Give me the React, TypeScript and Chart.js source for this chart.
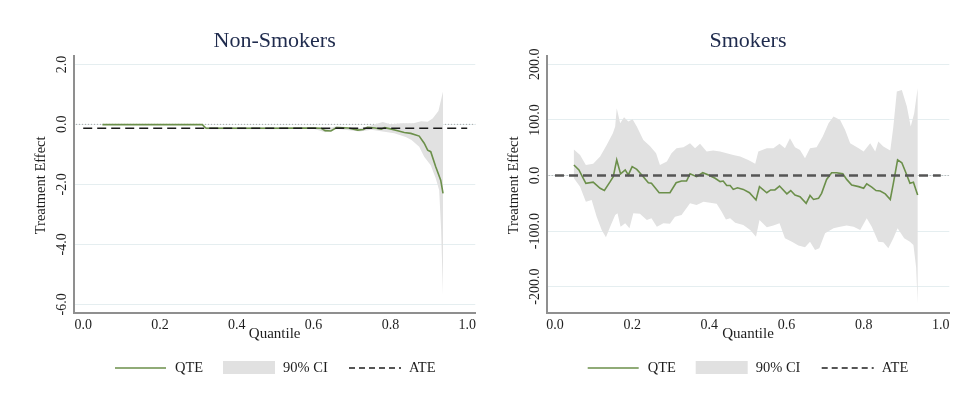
import React, { useEffect, useRef } from "react";
import { Chart, registerables } from "chart.js";
Chart.register(...registerables);

// ---------- Non-Smokers ----------
const nsQteX = [0.05, 0.31, 0.32, 0.40, 0.50, 0.60, 0.62, 0.63, 0.645, 0.66, 0.69, 0.715, 0.73, 0.74, 0.76, 0.776, 0.785, 0.80, 0.819, 0.836, 0.853, 0.875, 0.888, 0.897, 0.905, 0.918, 0.931, 0.937];
const nsQte = [-0.01, -0.01, -0.13, -0.13, -0.13, -0.12, -0.13, -0.21, -0.22, -0.11, -0.12, -0.19, -0.17, -0.10, -0.12, -0.16, -0.11, -0.15, -0.21, -0.27, -0.30, -0.39, -0.63, -0.86, -0.91, -1.41, -1.86, -2.30];
const nsHiX = [0.32, 0.50, 0.60, 0.63, 0.66, 0.72, 0.75, 0.78, 0.80, 0.83, 0.86, 0.88, 0.897, 0.91, 0.925, 0.937];
const nsHi = [-0.10, -0.10, -0.09, -0.15, -0.06, -0.13, -0.04, 0.08, 0.00, 0.04, 0.04, 0.10, 0.09, 0.20, 0.45, 1.10];
const nsLoX = [0.32, 0.50, 0.60, 0.63, 0.66, 0.72, 0.75, 0.78, 0.81, 0.84, 0.855, 0.875, 0.888, 0.905, 0.918, 0.927, 0.932, 0.937];
const nsLo = [-0.16, -0.16, -0.15, -0.26, -0.15, -0.24, -0.18, -0.24, -0.30, -0.42, -0.52, -0.75, -1.08, -1.36, -1.80, -2.20, -3.50, -5.70];
const nsAte = -0.13;

// ---------- Smokers ----------
const smQteX = [0.049, 0.062, 0.08, 0.099, 0.117, 0.128, 0.143, 0.151, 0.16, 0.17, 0.182, 0.19, 0.2, 0.212, 0.225, 0.242, 0.25, 0.27, 0.298, 0.314, 0.328, 0.341, 0.35, 0.367, 0.383, 0.398, 0.415, 0.428, 0.436, 0.445, 0.454, 0.462, 0.473, 0.488, 0.504, 0.521, 0.53, 0.549, 0.559, 0.57, 0.582, 0.601, 0.611, 0.622, 0.635, 0.651, 0.661, 0.67, 0.683, 0.691, 0.704, 0.717, 0.73, 0.746, 0.756, 0.769, 0.787, 0.8, 0.808, 0.821, 0.832, 0.843, 0.856, 0.869, 0.877, 0.888, 0.899, 0.91, 0.92, 0.929, 0.94];
const smQte = [19, 10, -14, -12, -23, -27, -11, -2, 28, 3, 10, 1, 16, 11, 1, -13, -14, -31, -31, -13, -10, -10, 3, -2, 5, 1, -5, -11, -10, -18, -18, -25, -22, -25, -31, -44, -20, -31, -26, -26, -19, -33, -27, -35, -38, -50, -36, -43, -41, -32, -7, 5, 5, 3, -7, -17, -20, -23, -15, -21, -27, -28, -33, -43, -14, 28, 23, 4, -14, -12, -35];
const smHiX = [0.049, 0.065, 0.08, 0.099, 0.117, 0.134, 0.15, 0.156, 0.16, 0.169, 0.179, 0.19, 0.201, 0.212, 0.229, 0.246, 0.262, 0.272, 0.29, 0.302, 0.315, 0.333, 0.35, 0.363, 0.376, 0.393, 0.41, 0.428, 0.445, 0.462, 0.48, 0.501, 0.519, 0.527, 0.549, 0.566, 0.582, 0.596, 0.609, 0.622, 0.635, 0.648, 0.661, 0.678, 0.694, 0.709, 0.722, 0.739, 0.752, 0.765, 0.787, 0.8, 0.817, 0.83, 0.838, 0.851, 0.869, 0.877, 0.886, 0.899, 0.912, 0.922, 0.931, 0.94];
const smHi = [47, 37, 19, 21, 34, 55, 76, 88, 121, 94, 105, 97, 101, 88, 64, 53, 40, 19, 25, 40, 49, 51, 58, 49, 57, 43, 45, 43, 40, 37, 34, 28, 21, 43, 49, 49, 57, 49, 67, 51, 46, 31, 49, 51, 70, 94, 106, 100, 82, 58, 49, 43, 58, 43, 61, 52, 45, 88, 151, 154, 124, 88, 112, 157];
const smLoX = [0.049, 0.065, 0.08, 0.095, 0.108, 0.121, 0.132, 0.143, 0.156, 0.162, 0.17, 0.182, 0.193, 0.203, 0.22, 0.238, 0.25, 0.264, 0.281, 0.298, 0.311, 0.328, 0.35, 0.367, 0.385, 0.402, 0.419, 0.432, 0.443, 0.454, 0.467, 0.488, 0.506, 0.521, 0.53, 0.549, 0.566, 0.582, 0.596, 0.614, 0.631, 0.648, 0.661, 0.674, 0.685, 0.7, 0.722, 0.739, 0.756, 0.774, 0.791, 0.808, 0.821, 0.838, 0.851, 0.864, 0.877, 0.888, 0.905, 0.92, 0.929, 0.936, 0.94];
const smLo = [-5, -20, -47, -44, -74, -98, -111, -92, -71, -68, -92, -86, -95, -68, -69, -80, -77, -92, -86, -87, -74, -71, -50, -53, -47, -49, -51, -65, -79, -77, -85, -89, -98, -110, -80, -93, -90, -86, -113, -119, -126, -129, -119, -134, -131, -104, -95, -92, -90, -92, -98, -77, -92, -119, -120, -131, -113, -95, -113, -119, -125, -165, -230];
const smAte = 0;

const xTicks = [0, 0.2, 0.4, 0.6, 0.8, 1.0];
const legendLabels = ["QTE", "90% CI", "ATE"];

const FONT = '"Liberation Serif", "Times New Roman", serif';
const GREEN = "#6b8f4a";
const CI_FILL = "#e1e1e1";
const AXIS = "#8f8f8f";
const GRID = "#e5eef0";
const TXT = "#1e1e1e";
const TITLE = "#1f2b4d";

const PLOT_TOP = 56;
const PLOT_BOTTOM = 312.7;
const H = 407;

type Panel = {
  title: string;
  canvasLeft: number;
  canvasWidth: number;
  areaLeft: number;
  areaRight: number;
  xMin: number;
  xMax: number;
  yMin: number;
  yMax: number;
  yStep: number;
  qteX: number[];
  qte: number[];
  hiX: number[];
  hi: number[];
  loX: number[];
  lo: number[];
  ate: number;
  ateColor: string;
  ateWidth: number;
  ateDash: number[];
};

const panels: Panel[] = [
  {
    title: "Non-Smokers",
    canvasLeft: 0,
    canvasWidth: 480,
    areaLeft: 74,
    areaRight: 478,
    xMin: -0.024,
    xMax: 1.021,
    yMin: -6.28,
    yMax: 2.28,
    yStep: 2,
    qteX: nsQteX,
    qte: nsQte,
    hiX: nsHiX,
    hi: nsHi,
    loX: nsLoX,
    lo: nsLo,
    ate: nsAte,
    ateColor: "#1a1a1a",
    ateWidth: 1.6,
    ateDash: [9, 5],
  },
  {
    title: "Smokers",
    canvasLeft: 480,
    canvasWidth: 479,
    areaLeft: 66.7,
    areaRight: 469.3,
    xMin: -0.0215,
    xMax: 1.022,
    yMin: -246.8,
    yMax: 215,
    yStep: 100,
    qteX: smQteX,
    qte: smQte,
    hiX: smHiX,
    hi: smHi,
    loX: smLoX,
    lo: smLo,
    ate: smAte,
    ateColor: "#555555",
    ateWidth: 2.4,
    ateDash: [9, 5],
  },
];

function pts(xs: number[], ys: number[]) {
  return xs.map((x, i) => ({ x, y: ys[i] }));
}

function makeDecor(p: Panel) {
  return {
    id: "decor",
    beforeDatasetsDraw(chart: any) {
      const { ctx, chartArea, scales } = chart;
      const y0 = scales.y.getPixelForValue(0);
      ctx.save();
      ctx.strokeStyle = "#a8a8a8";
      ctx.lineWidth = 1;
      ctx.setLineDash([1, 2]);
      ctx.beginPath();
      ctx.moveTo(chartArea.left + 2, y0);
      ctx.lineTo(chartArea.right, y0);
      ctx.stroke();
      ctx.restore();
    },
    afterDraw(chart: any) {
      const { ctx, chartArea, scales } = chart;
      const y = scales.y;
      const L = chartArea.left;
      ctx.save();
      // y tick labels (rotated)
      ctx.fillStyle = TXT;
      ctx.font = `14px ${FONT}`;
      ctx.textAlign = "center";
      ctx.textBaseline = "middle";
      for (const t of y.ticks) {
        const py = y.getPixelForValue(t.value);
        ctx.save();
        ctx.translate(L - 11.5, py);
        ctx.rotate(-Math.PI / 2);
        ctx.fillText(Number(t.value).toFixed(1), 0, 0);
        ctx.restore();
      }
      // y axis title
      ctx.save();
      ctx.font = `14.5px ${FONT}`;
      ctx.translate(L - 32.5, (chartArea.top + chartArea.bottom) / 2 + 1);
      ctx.rotate(-Math.PI / 2);
      ctx.fillText("Treatment Effect", 0, 0);
      ctx.restore();
      // x axis title
      ctx.font = `15px ${FONT}`;
      ctx.textBaseline = "alphabetic";
      ctx.fillText("Quantile", (chartArea.left + chartArea.right) / 2, 338);
      // panel title
      ctx.fillStyle = TITLE;
      ctx.font = `22px ${FONT}`;
      ctx.textBaseline = "middle";
      ctx.fillText(p.title, (chartArea.left + chartArea.right) / 2, 41);
      // legend
      const ly = 368;
      ctx.textAlign = "left";
      ctx.textBaseline = "middle";
      ctx.font = `14.5px ${FONT}`;
      ctx.fillStyle = TXT;
      // QTE line
      ctx.strokeStyle = GREEN;
      ctx.lineWidth = 1.5;
      ctx.beginPath();
      ctx.moveTo(L + 41, ly);
      ctx.lineTo(L + 92, ly);
      ctx.stroke();
      ctx.fillText(legendLabels[0], L + 101, ly + 0.5);
      // CI box
      ctx.fillStyle = CI_FILL;
      ctx.fillRect(L + 149, ly - 7, 52, 13);
      ctx.fillStyle = TXT;
      ctx.fillText(legendLabels[1], L + 209, ly + 0.5);
      // ATE dash
      ctx.strokeStyle = "#555555";
      ctx.lineWidth = 2;
      ctx.setLineDash([6, 4]);
      ctx.beginPath();
      ctx.moveTo(L + 275, ly);
      ctx.lineTo(L + 327, ly);
      ctx.stroke();
      ctx.setLineDash([]);
      ctx.fillText(legendLabels[2], L + 335, ly + 0.5);
      ctx.restore();
    },
  };
}

function PanelChart({ p }: { p: Panel }) {
  const ref = useRef<HTMLCanvasElement | null>(null);
  useEffect(() => {
    if (!ref.current) return;
    const polygon = [
      ...pts(p.hiX, p.hi),
      ...pts(p.loX, p.lo).reverse(),
    ];
    const chart = new Chart(ref.current, {
      type: "line",
      data: {
        datasets: [
          {
            label: "ATE",
            data: [
              { x: xTicks[0], y: p.ate },
              { x: xTicks[xTicks.length - 1], y: p.ate },
            ],
            borderColor: p.ateColor,
            borderWidth: p.ateWidth,
            borderDash: p.ateDash,
            pointRadius: 0,
            fill: false,
            order: 0,
          },
          {
            label: "QTE",
            data: pts(p.qteX, p.qte),
            borderColor: GREEN,
            borderWidth: 1.6,
            pointRadius: 0,
            tension: 0,
            fill: false,
            order: 1,
          },
          {
            label: "90% CI",
            data: polygon,
            borderColor: "rgba(0,0,0,0)",
            borderWidth: 0,
            backgroundColor: CI_FILL,
            pointRadius: 0,
            tension: 0,
            fill: "shape",
            order: 2,
          },
        ],
      },
      options: {
        responsive: false,
        animation: false,
        events: [],
        layout: {
          padding: {
            left: 0,
            top: PLOT_TOP,
            right: p.canvasWidth - p.areaRight,
            bottom: 0,
          },
        },
        plugins: {
          legend: { display: false },
          tooltip: { enabled: false },
          title: { display: false },
        },
        scales: {
          x: {
            type: "linear",
            min: p.xMin,
            max: p.xMax,
            afterFit: (s: any) => {
              s.height = H - PLOT_BOTTOM;
            },
            grid: { display: false, drawTicks: false },
            border: { color: AXIS, width: 2 },
            ticks: {
              stepSize: 0.2,
              includeBounds: false,
              autoSkip: false,
              maxRotation: 0,
              minRotation: 0,
              padding: 4,
              color: TXT,
              font: { family: FONT, size: 14 },
              callback: (v: any) => Number(v).toFixed(1),
            },
          },
          y: {
            type: "linear",
            min: p.yMin,
            max: p.yMax,
            afterFit: (s: any) => {
              s.width = p.areaLeft;
            },
            grid: { color: GRID, lineWidth: 1, drawTicks: false },
            border: { color: AXIS, width: 2 },
            ticks: { display: false, stepSize: p.yStep, includeBounds: false },
          },
        },
      } as any,
      plugins: [makeDecor(p)],
    });
    return () => chart.destroy();
  }, [p]);
  return (
    <canvas
      ref={ref}
      width={p.canvasWidth}
      height={H}
      style={{
        position: "absolute",
        left: p.canvasLeft,
        top: 0,
        width: p.canvasWidth,
        height: H,
      }}
    />
  );
}

export default function App() {
  useEffect(() => {
    document.body.style.margin = "0";
  }, []);
  return (
    <div
      style={{
        position: "absolute",
        left: 0,
        top: 0,
        width: 959,
        height: H,
        background: "#ffffff",
        overflow: "hidden",
      }}
    >
      {panels.map((p) => (
        <PanelChart key={p.title} p={p} />
      ))}
    </div>
  );
}
